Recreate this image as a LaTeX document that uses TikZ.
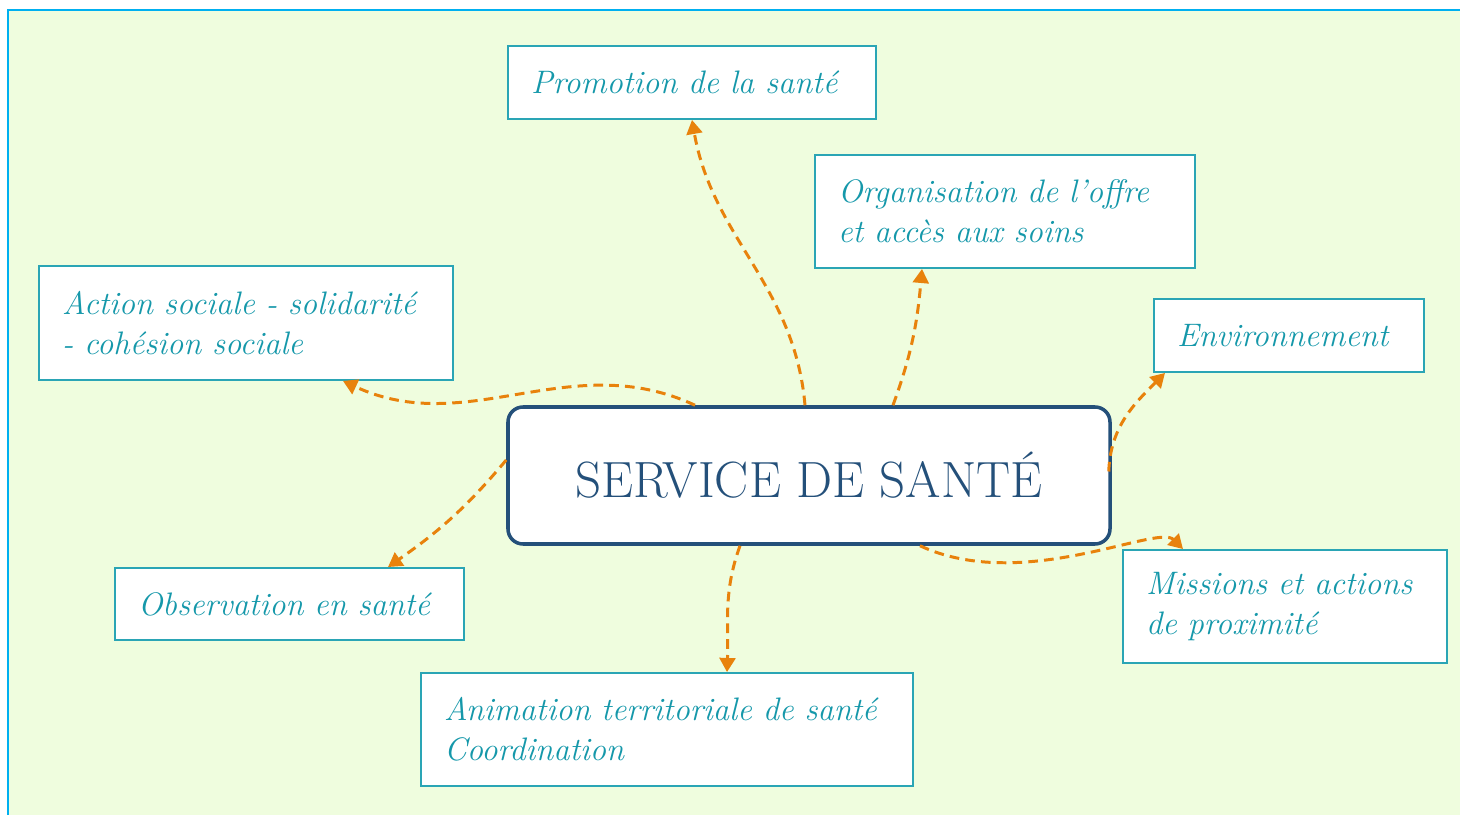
\documentclass[tikz,border=0pt]{standalone}
\usepackage{tikz}
\usetikzlibrary{arrows.meta, positioning}

\definecolor{bgcol}{HTML}{EFFDDE}
\definecolor{framecol}{HTML}{00B0F0}
\definecolor{boxcol}{HTML}{2AA5B5}
\definecolor{textcol}{HTML}{1598AA}
\definecolor{hubcol}{HTML}{24507A}
\definecolor{linkcol}{HTML}{E8820C}

\begin{document}
\begin{tikzpicture}[
  topic/.style = {draw=boxcol, line width=1.1pt, fill=white, text=textcol, align=left,
                  inner xsep=0.46cm, font=\fontsize{18.5}{23}\selectfont\itshape},
  hub/.style = {draw=hubcol, line width=2pt, fill=white, rounded corners=0.3cm,
                text=hubcol, font=\fontsize{29}{34}\selectfont,
                minimum width=12.04cm, minimum height=2.74cm},
  link/.style = {linkcol, line width=1.7pt, dash pattern=on 5.5pt off 3.5pt,
                 -{Triangle[width=9pt,length=8pt]}}
]
  \useasboundingbox (0,0) rectangle (29.2,16.3);

  % background and frame
  \fill[bgcol] (0.16,0) rectangle (29.2,16.1);
  \draw[framecol, line width=1.4pt] (0.16,0) -- (0.16,16.1) -- (29.2,16.1);

  % central node
  \node[hub] (hub) at (16.18,6.79) {SERVICE DE SANT\'E};

  % topics
  \node[topic, minimum width=7.36cm, minimum height=1.46cm, text width=6.44cm]
    (promo) at (13.84,14.65) {Promotion de la sant\'e};
  \node[topic, minimum width=7.6cm, minimum height=2.26cm, text width=6.68cm]
    (offre) at (20.10,12.07) {Organisation de l'offre\\et acc\`es aux soins};
  \node[topic, minimum width=8.28cm, minimum height=2.28cm, text width=7.36cm]
    (social) at (4.92,9.84) {Action sociale - solidarit\'e\\- coh\'esion sociale};
  \node[topic, minimum width=5.4cm, minimum height=1.46cm, text width=4.48cm]
    (env) at (25.78,9.59) {Environnement};
  \node[topic, minimum width=6.98cm, minimum height=1.44cm, text width=6.06cm]
    (obs) at (5.79,4.22) {Observation en sant\'e};
  \node[topic, minimum width=6.48cm, minimum height=2.26cm, text width=5.56cm]
    (proxi) at (25.70,4.17) {Missions et actions\\de proximit\'e};
  \node[topic, minimum width=9.84cm, minimum height=2.26cm, text width=8.92cm]
    (anim) at (13.34,1.71) {Animation territoriale de sant\'e\\Coordination};

  % links from the hub
  \draw[link] ([xshift=-0.08cm]hub.north) to[out=95, in=-80] (promo.south);
  \draw[link] ([xshift=1.68cm]hub.north) to[out=70, in=-95] ([xshift=-1.66cm]offre.south);
  \draw[link] ([xshift=-2.28cm]hub.north) to[out=155, in=-25] ([xshift=1.94cm]social.south);
  \draw[link] ([xshift=-0.06cm, yshift=0.08cm]hub.east) to[out=88, in=-135] ([xshift=-2.48cm]env.south);
  \draw[link] ([xshift=2.22cm]hub.south) to[out=-25, in=135, out looseness=1.1, in looseness=0.35] ([xshift=-2.04cm]proxi.north);
  \draw[link] ([xshift=-1.38cm]hub.south) to[out=-110, in=88] ([xshift=1.2cm]anim.north);
  \draw[link] ([yshift=0.31cm]hub.west) to[out=-130, in=35] ([xshift=1.97cm]obs.north);

\end{tikzpicture}
\end{document}
